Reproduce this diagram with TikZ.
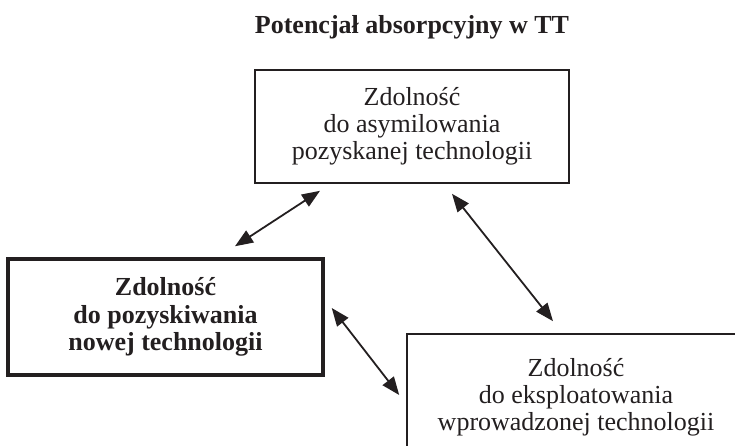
\documentclass[tikz,border=0pt]{standalone}
\usepackage{fontspec}
\setmainfont{Liberation Serif}
\usepackage{tikz}
\usetikzlibrary{arrows.meta, positioning}
\definecolor{ink}{RGB}{35, 31, 32}

\begin{document}
\begin{tikzpicture}[x=1pt, y=-1pt, every node/.style={text=ink},
    box/.style={draw=ink, line width=1.6pt, align=center, inner sep=0pt,
      font=\fontsize{26}{27}\selectfont},
    boldbox/.style={box, line width=3.5pt, font=\fontsize{26}{27.5}\selectfont\bfseries},
    link/.style={{Triangle[length=18pt,width=14pt]}-{Triangle[length=18pt,width=14pt]}, draw=ink, line width=1.8pt}]
  \clip (0,0) rectangle (735,445);
  \node[font=\fontsize{26}{28}\selectfont\bfseries, anchor=base] (title) at (412,33) {Potencjał absorpcyjny w TT};
  \node[box, minimum width=314pt, minimum height=113pt] (asym) at (412,126.5)
    {Zdolność\\do asymilowania\\pozyskanej technologii};
  \node[boldbox, minimum width=315pt, minimum height=116pt] (acq) at (165.5,317)
    {Zdolność\\do pozyskiwania\\nowej technologii};
  \node[box, minimum width=338pt, minimum height=127pt] (expl) at (576,397.5)
    {Zdolność\\do eksploatowania\\wprowadzonej technologii};
  \draw[link] ([xshift=69.5pt,yshift=11pt]acq.north) -- ([xshift=-92pt,yshift=-7pt]asym.south);
  \draw[link] ([xshift=40pt,yshift=-10pt]asym.south) -- ([xshift=-23pt,yshift=12pt]expl.north);
  \draw[link] ([xshift=7pt,yshift=9pt]acq.east) -- ([xshift=-7pt,yshift=2.5pt]expl.west);
\end{tikzpicture}
\end{document}
